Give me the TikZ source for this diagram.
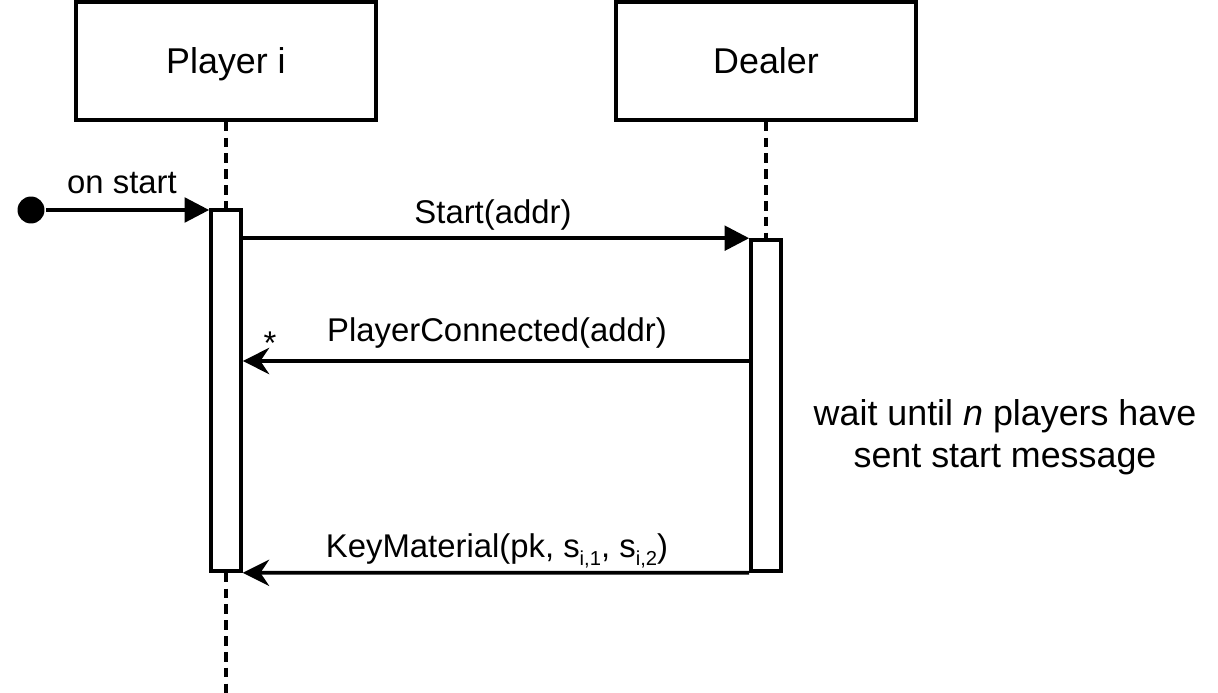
\documentclass[tikz,border=0pt]{standalone}
\usepackage{fontspec}
\setmainfont{Liberation Sans}
\usetikzlibrary{arrows.meta}

\newcommand{\lowsub}[1]{\raisebox{-0.45ex}{\fontsize{11.5}{12}\selectfont #1}}

\begin{document}
\begin{tikzpicture}[x=0.02cm,y=-0.02cm,line width=2.1pt,
					head node/.style={draw,minimum width=6cm,minimum height=2.36cm,text depth=0pt,font=\fontsize{20.4}{24}\selectfont},
					act node/.style={draw,fill=white,minimum width=0.6cm},
					life/.style={dash pattern=on 5.5pt off 3.5pt},
					call/.style={-{Triangle[length=14pt,width=14pt]}},
					reply/.style={-{Stealth[length=15pt,width=15pt,inset=5pt]}},
					lbl/.style={font=\fontsize{18.7}{22}\selectfont}]
					\useasboundingbox (0,0) rectangle (1218,693);
					\node[head node] (player) at (226,61) {Player i};
					\node[head node] (dealer) at (766,61) {Dealer};
					\node[act node,minimum height=7.22cm] (pact) at (226,390.5) {};
					\node[act node,minimum height=6.62cm] (dact) at (766,405.5) {};
					\node[circle,fill,inner sep=0pt,minimum size=0.54cm] (init) at (31,210) {};
					\coordinate (pend) at (226,693);
					\coordinate (conn) at (751,361);

					% lifelines
					\draw[life] (player.south) -- (pact.north);
					\draw[life] (pact.south) -- (pend);
					\draw[life] (dealer.south) -- (dact.north);

					% messages
					\draw[call] (init) -- (init -| pact.west);
					\draw[call] (pact.east |- dact.north) -- (dact.north west);
					\draw[reply] (conn -| dact.west) -- (conn -| pact.east);
					\draw[reply] (dact.south west) -- (pact.south east);

					\node[lbl] (l1) at (122,183) {on start};
					\node[lbl] (l2) at (493,215) {Start(addr)};
					\node[lbl] (l3) at (270,343) {*};
					\node[lbl] (l4) at (497,333) {PlayerConnected(addr)};
					\node[lbl] (l5) at (497,551) {KeyMaterial(pk, s\lowsub{i,1}, s\lowsub{i,2})};
					\node[align=center,font=\fontsize{20.4}{23.8}\selectfont] (wait) at (1005,437)
						{wait until \textit{n} players have\\sent start message};
				\end{tikzpicture}
\end{document}
